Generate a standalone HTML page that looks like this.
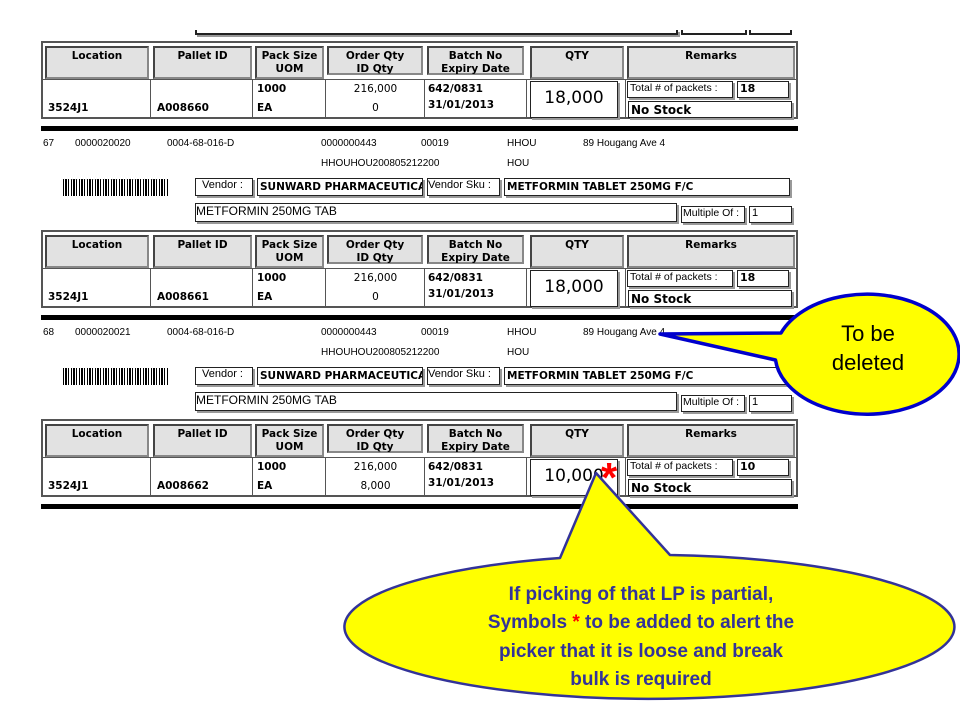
<!DOCTYPE html>
<html><head><meta charset="utf-8">
<style>
*{margin:0;padding:0;box-sizing:border-box}
body{width:960px;height:720px;background:#fff;position:relative;overflow:hidden;font-family:"DejaVu Sans","Liberation Sans",sans-serif;color:#000}
.a{position:absolute}
.blk{position:absolute;left:0;width:960px;height:200px}
.tbl{position:absolute;left:41px;top:0;width:757px;height:78px;border:2px solid #555;background:#fff}
.hc{position:absolute;top:3px;height:33px;background:#e2e2e2;border:2px solid #444;border-right-color:#888;border-bottom-color:#888;font-weight:bold;font-size:10.5px;text-align:center;line-height:13px;padding-top:2px}
.vl{position:absolute;top:37px;width:1px;height:39px;background:#555}
.hl{position:absolute;left:0;top:36px;width:753px;height:1px;background:#555}
.dt{position:absolute;font-size:10.5px;font-weight:bold;white-space:nowrap}
.dn{position:absolute;font-size:10.5px;white-space:nowrap;text-align:center}
.bx{position:absolute;border:1px solid #222;box-shadow:2px 2px 0 #999;background:#fff;white-space:nowrap;overflow:hidden;font-size:11px;padding-left:2px}
.thick{position:absolute;left:41px;width:757px;height:5px;background:#000}
.tx{position:absolute;font-size:10px;white-space:nowrap;font-family:"Liberation Sans",sans-serif}
.bc{position:absolute;height:17px;width:106px;background:repeating-linear-gradient(90deg,#000 0 1px,#fff 1px 2px,#000 2px 4px,#fff 4px 5px,#000 5px 6px,#fff 6px 8px)}
</style></head><body>

<div class="a" style="left:195px;top:30px;width:483px;height:5px;border:2px solid #222;border-top:none;box-shadow:2px 2px 0 #999"></div>
<div class="a" style="left:681px;top:30px;width:66px;height:5px;border:2px solid #222;border-top:none"></div>
<div class="a" style="left:749px;top:30px;width:43px;height:5px;border:2px solid #222;border-top:none"></div>

<div class="blk" style="top:41px">
 <div class="tbl">
  <div class="hc" style="left:2px;width:104px">Location</div>
  <div class="hc" style="left:110px;width:99px">Pallet ID</div>
  <div class="hc" style="left:212px;width:69px">Pack Size<br>UOM</div>
  <div class="hc" style="left:284px;width:96px;height:29px">Order Qty<br>ID Qty</div>
  <div class="hc" style="left:384px;width:97px;height:29px">Batch No<br>Expiry Date</div>
  <div class="hc" style="left:487px;width:94px">QTY</div>
  <div class="hc" style="left:584px;width:168px">Remarks</div>
  <div class="hl"></div>
  <div class="vl" style="left:107px"></div><div class="vl" style="left:209px"></div><div class="vl" style="left:282px"></div><div class="vl" style="left:381px"></div><div class="vl" style="left:483px"></div><div class="vl" style="left:582px"></div>
  <div class="dt" style="left:5px;top:59px">3524J1</div>
  <div class="dt" style="left:114px;top:59px">A008660</div>
  <div class="dt" style="left:214px;top:40px">1000</div>
  <div class="dt" style="left:214px;top:59px">EA</div>
  <div class="dn" style="left:284px;width:97px;top:40px">216,000</div>
  <div class="dn" style="left:284px;width:97px;top:59px">0</div>
  <div class="dt" style="left:385px;top:40px">642/0831</div>
  <div class="dt" style="left:385px;top:56px">31/01/2013</div>
  <div class="bx" style="left:487px;top:38px;width:88px;height:37px;font-size:17px;text-align:center;padding:6px 0 0">18,000</div>
  <div class="bx" style="left:584px;top:38px;width:106px;height:17px;font-size:10.5px;font-family:'Liberation Sans',sans-serif">Total # of packets :</div>
  <div class="bx" style="left:694px;top:38px;width:52px;height:17px;font-weight:bold">18</div>
  <div class="bx" style="left:585px;top:58px;width:164px;height:17px;font-weight:bold;font-size:12px;line-height:17px">No Stock</div>
 </div>
 <div class="thick" style="top:85px"></div>
</div>

<div class="blk" style="top:230px">
 <div class="tx" style="left:43px;top:-92px">67</div>
 <div class="tx" style="left:75px;top:-92px">0000020020</div>
 <div class="tx" style="left:167px;top:-92px">0004-68-016-D</div>
 <div class="tx" style="left:321px;top:-92px">0000000443</div>
 <div class="tx" style="left:421px;top:-92px">00019</div>
 <div class="tx" style="left:507px;top:-92px">HHOU</div>
 <div class="tx" style="left:583px;top:-92px">89 Hougang Ave 4</div>
 <div class="tx" style="left:321px;top:-72px">HHOUHOU200805212200</div>
 <div class="tx" style="left:507px;top:-72px">HOU</div>
 <div class="bc" style="left:63px;top:-51px"></div>
 <div class="bx" style="left:195px;top:-52px;width:58px;height:18px;font-family:'Liberation Sans',sans-serif;padding-left:6px">Vendor :</div>
 <div class="bx" style="left:257px;top:-52px;width:166px;height:18px;font-weight:bold;font-size:10.5px;line-height:16px">SUNWARD PHARMACEUTICAL</div>
 <div class="bx" style="left:427px;top:-52px;width:73px;height:18px;font-family:'Liberation Sans',sans-serif;padding-left:0">Vendor Sku :</div>
 <div class="bx" style="left:504px;top:-52px;width:286px;height:18px;font-weight:bold;font-size:10.5px;line-height:16px">METFORMIN TABLET 250MG F/C</div>
 <div class="bx" style="left:195px;top:-27px;width:482px;height:19px;font-family:'Liberation Sans',sans-serif;font-size:12px;padding-left:0">METFORMIN 250MG TAB</div>
 <div class="bx" style="left:681px;top:-24px;width:64px;height:17px;font-family:'Liberation Sans',sans-serif;font-size:10.5px;padding-left:1px">Multiple Of :</div>
 <div class="bx" style="left:749px;top:-24px;width:43px;height:17px;font-family:'Liberation Sans',sans-serif">1</div>
 <div class="tbl">
  <div class="hc" style="left:2px;width:104px">Location</div>
  <div class="hc" style="left:110px;width:99px">Pallet ID</div>
  <div class="hc" style="left:212px;width:69px">Pack Size<br>UOM</div>
  <div class="hc" style="left:284px;width:96px;height:29px">Order Qty<br>ID Qty</div>
  <div class="hc" style="left:384px;width:97px;height:29px">Batch No<br>Expiry Date</div>
  <div class="hc" style="left:487px;width:94px">QTY</div>
  <div class="hc" style="left:584px;width:168px">Remarks</div>
  <div class="hl"></div>
  <div class="vl" style="left:107px"></div><div class="vl" style="left:209px"></div><div class="vl" style="left:282px"></div><div class="vl" style="left:381px"></div><div class="vl" style="left:483px"></div><div class="vl" style="left:582px"></div>
  <div class="dt" style="left:5px;top:59px">3524J1</div>
  <div class="dt" style="left:114px;top:59px">A008661</div>
  <div class="dt" style="left:214px;top:40px">1000</div>
  <div class="dt" style="left:214px;top:59px">EA</div>
  <div class="dn" style="left:284px;width:97px;top:40px">216,000</div>
  <div class="dn" style="left:284px;width:97px;top:59px">0</div>
  <div class="dt" style="left:385px;top:40px">642/0831</div>
  <div class="dt" style="left:385px;top:56px">31/01/2013</div>
  <div class="bx" style="left:487px;top:38px;width:88px;height:37px;font-size:17px;text-align:center;padding:6px 0 0">18,000</div>
  <div class="bx" style="left:584px;top:38px;width:106px;height:17px;font-size:10.5px;font-family:'Liberation Sans',sans-serif">Total # of packets :</div>
  <div class="bx" style="left:694px;top:38px;width:52px;height:17px;font-weight:bold">18</div>
  <div class="bx" style="left:585px;top:58px;width:164px;height:17px;font-weight:bold;font-size:12px;line-height:17px">No Stock</div>
 </div>
 <div class="thick" style="top:85px"></div>
</div>

<div class="blk" style="top:419px">
 <div class="tx" style="left:43px;top:-92px">68</div>
 <div class="tx" style="left:75px;top:-92px">0000020021</div>
 <div class="tx" style="left:167px;top:-92px">0004-68-016-D</div>
 <div class="tx" style="left:321px;top:-92px">0000000443</div>
 <div class="tx" style="left:421px;top:-92px">00019</div>
 <div class="tx" style="left:507px;top:-92px">HHOU</div>
 <div class="tx" style="left:583px;top:-92px">89 Hougang Ave 4</div>
 <div class="tx" style="left:321px;top:-72px">HHOUHOU200805212200</div>
 <div class="tx" style="left:507px;top:-72px">HOU</div>
 <div class="bc" style="left:63px;top:-51px"></div>
 <div class="bx" style="left:195px;top:-52px;width:58px;height:18px;font-family:'Liberation Sans',sans-serif;padding-left:6px">Vendor :</div>
 <div class="bx" style="left:257px;top:-52px;width:166px;height:18px;font-weight:bold;font-size:10.5px;line-height:16px">SUNWARD PHARMACEUTICAL</div>
 <div class="bx" style="left:427px;top:-52px;width:73px;height:18px;font-family:'Liberation Sans',sans-serif;padding-left:0">Vendor Sku :</div>
 <div class="bx" style="left:504px;top:-52px;width:286px;height:18px;font-weight:bold;font-size:10.5px;line-height:16px">METFORMIN TABLET 250MG F/C</div>
 <div class="bx" style="left:195px;top:-27px;width:482px;height:19px;font-family:'Liberation Sans',sans-serif;font-size:12px;padding-left:0">METFORMIN 250MG TAB</div>
 <div class="bx" style="left:681px;top:-24px;width:64px;height:17px;font-family:'Liberation Sans',sans-serif;font-size:10.5px;padding-left:1px">Multiple Of :</div>
 <div class="bx" style="left:749px;top:-24px;width:43px;height:17px;font-family:'Liberation Sans',sans-serif">1</div>
 <div class="tbl">
  <div class="hc" style="left:2px;width:104px">Location</div>
  <div class="hc" style="left:110px;width:99px">Pallet ID</div>
  <div class="hc" style="left:212px;width:69px">Pack Size<br>UOM</div>
  <div class="hc" style="left:284px;width:96px;height:29px">Order Qty<br>ID Qty</div>
  <div class="hc" style="left:384px;width:97px;height:29px">Batch No<br>Expiry Date</div>
  <div class="hc" style="left:487px;width:94px">QTY</div>
  <div class="hc" style="left:584px;width:168px">Remarks</div>
  <div class="hl"></div>
  <div class="vl" style="left:107px"></div><div class="vl" style="left:209px"></div><div class="vl" style="left:282px"></div><div class="vl" style="left:381px"></div><div class="vl" style="left:483px"></div><div class="vl" style="left:582px"></div>
  <div class="dt" style="left:5px;top:59px">3524J1</div>
  <div class="dt" style="left:114px;top:59px">A008662</div>
  <div class="dt" style="left:214px;top:40px">1000</div>
  <div class="dt" style="left:214px;top:59px">EA</div>
  <div class="dn" style="left:284px;width:97px;top:40px">216,000</div>
  <div class="dn" style="left:284px;width:97px;top:59px">8,000</div>
  <div class="dt" style="left:385px;top:40px">642/0831</div>
  <div class="dt" style="left:385px;top:56px">31/01/2013</div>
  <div class="bx" style="left:487px;top:38px;width:88px;height:37px;font-size:17px;text-align:center;padding:6px 0 0">10,000</div>
  <div class="bx" style="left:584px;top:38px;width:106px;height:17px;font-size:10.5px;font-family:'Liberation Sans',sans-serif">Total # of packets :</div>
  <div class="bx" style="left:694px;top:38px;width:52px;height:17px;font-weight:bold">10</div>
  <div class="bx" style="left:585px;top:58px;width:164px;height:17px;font-weight:bold;font-size:12px;line-height:17px">No Stock</div>
 </div>
 <div class="thick" style="top:85px"></div>
</div>

<svg class="a" style="left:0;top:0" width="960" height="720" viewBox="0 0 960 720">
 <path d="M 781 333 L 660 334 L 775.5 360 A 92 60 0 1 0 781 333 Z" fill="#ffff00" stroke="#0000cc" stroke-width="3.5" stroke-linejoin="round"/>
 <text x="868" y="341" font-family="Liberation Sans,sans-serif" font-size="22" text-anchor="middle">To be</text>
 <text x="868" y="370" font-family="Liberation Sans,sans-serif" font-size="22" text-anchor="middle">deleted</text>
 <path d="M 560 558 L 596 473 L 670 555 A 305 72 0 1 1 560 558 Z" fill="#ffff00" stroke="#333399" stroke-width="2.5" stroke-linejoin="round"/>
 <g font-family="Liberation Sans,sans-serif" font-size="19" font-weight="bold" fill="#333399" text-anchor="middle">
  <text x="641" y="600">If picking of that LP is partial,</text>
  <text x="641" y="628">Symbols <tspan fill="#ff0000">*</tspan> to be added to alert the</text>
  <text x="641" y="657">picker that it is loose and break</text>
  <text x="641" y="685">bulk is required</text>
 </g>
 <text x="609" y="492" font-family="Liberation Sans,sans-serif" font-size="42" font-weight="bold" fill="#ff0000" text-anchor="middle">*</text>
</svg>
</body></html>
